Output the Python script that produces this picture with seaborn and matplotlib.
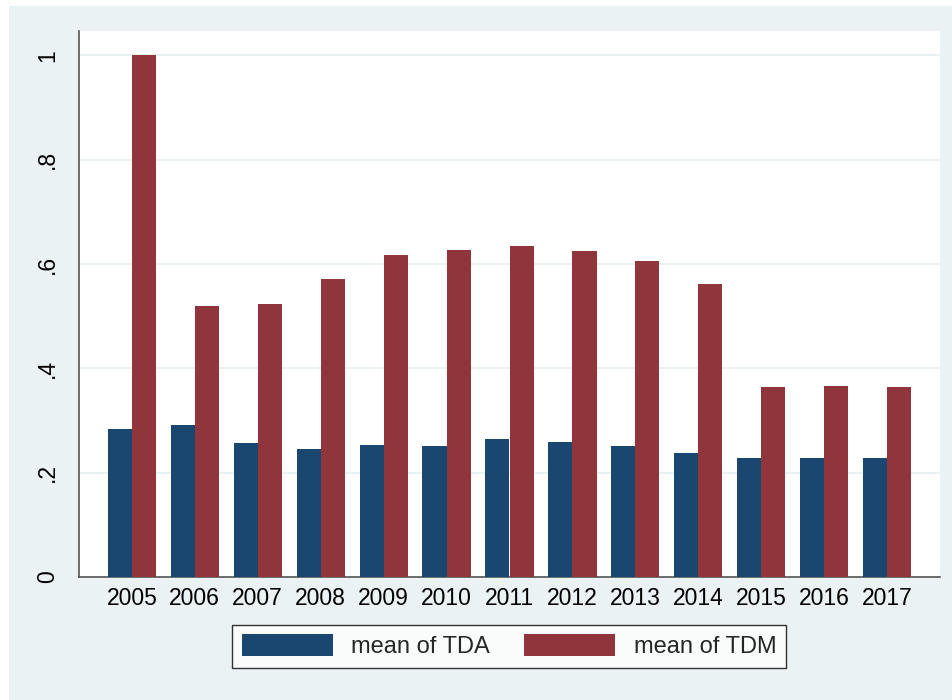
import numpy as np
import pandas as pd
import matplotlib
matplotlib.use('Agg')
import matplotlib.pyplot as plt
import seaborn as sns
from matplotlib.patches import Patch, Rectangle

years = ['2005', '2006', '2007', '2008', '2009', '2010', '2011',
         '2012', '2013', '2014', '2015', '2016', '2017']
tda = [0.284, 0.291, 0.257, 0.246, 0.253, 0.251, 0.264,
       0.258, 0.252, 0.238, 0.228, 0.228, 0.228]
tdm = [1.000, 0.519, 0.523, 0.571, 0.617, 0.627, 0.635,
       0.624, 0.605, 0.561, 0.364, 0.366, 0.364]
series = ['mean of TDA', 'mean of TDM']
colors = ['#1A476F', '#90353B']

df = pd.DataFrame({
    'year': years * 2,
    'value': tda + tdm,
    'series': [series[0]] * len(years) + [series[1]] * len(years),
})

sns.set_style('white')
plt.rcParams['font.family'] = ['Liberation Sans', 'DejaVu Sans']

bg = '#EAF2F3'
fig = plt.figure(figsize=(9.52, 7), dpi=100)
fig.patch.set_facecolor('white')
fig.patches.append(Rectangle((9 / 952, 0), 1, 1 - 6 / 700, transform=fig.transFigure,
                             facecolor=bg, edgecolor='none', zorder=-10))
ax = fig.add_axes([79 / 952, 1 - 577 / 700, (940 - 79) / 952, (577 - 31) / 700])
ax.set_facecolor('white')

sns.barplot(data=df, x='year', y='value', hue='series', palette=colors,
            width=0.765, saturation=1, linewidth=0, ax=ax, legend=False, zorder=3)

ax.set_xlim(-0.84, 12.84)
ax.set_ylim(0, 1.0465)
ax.set_yticks([0, 0.2, 0.4, 0.6, 0.8, 1.0])
ax.set_yticklabels(['0', '.2', '.4', '.6', '.8', '1'], rotation=90, va='center')
ax.yaxis.grid(True, color=bg, linewidth=1.5, zorder=0)
ax.set_axisbelow(True)
ax.set_xlabel('')
ax.set_ylabel('')
ax.tick_params(axis='y', length=6.5, width=1, color='#555555', pad=8, labelsize=16.5, labelcolor='black')
ax.tick_params(axis='x', length=0, pad=7, labelsize=16.5, labelcolor='black')
for s in ['top', 'right']:
    ax.spines[s].set_visible(False)
for s in ['left', 'bottom']:
    ax.spines[s].set_color('#555555')
    ax.spines[s].set_linewidth(1.2)

handles = [Patch(facecolor=c, edgecolor='none') for c in colors]
leg = fig.legend(handles, series, loc='center', bbox_to_anchor=(0.535, 0.077),
                 ncol=2, fontsize=17, frameon=True, fancybox=False,
                 edgecolor='black', handlelength=3.85, handleheight=1.06,
                 handletextpad=0.8, columnspacing=1.45, borderpad=0.4,
                 borderaxespad=0)
leg.get_frame().set_linewidth(1.0)
leg.get_frame().set_facecolor('white')

fig.savefig('out.png', dpi=100, facecolor=fig.get_facecolor())
